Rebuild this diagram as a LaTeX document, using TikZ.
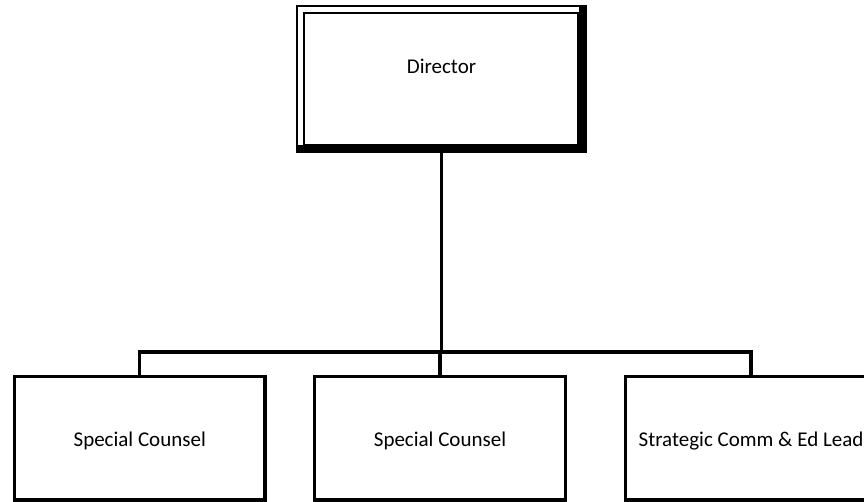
\documentclass[tikz,border=0pt]{standalone}
\usepackage{fontspec}
\setmainfont{Carlito}
\begin{document}
\begin{tikzpicture}[x=1pt,y=-1pt,
  boxfont/.style={font=\fontsize{21}{25}\selectfont},
  unitbox/.style={boxfont, draw, line width=3.3pt, inner sep=0pt,
    minimum width=250.5pt, text height=70pt, text depth=53.5pt},
  headbox/.style={boxfont, inner sep=0pt, minimum width=291pt,
    text height=68pt, text depth=79pt},
  link/.style={line width=3.3pt, line join=miter},
]
\useasboundingbox (0,0) rectangle (864,502);
\clip (0,0) rectangle (864,502);

% Director frame: thin double line on top/left, heavy shadow on bottom/right
\fill[black] (295.7,5) rectangle (587,153);
\fill[white] (298.3,7.4) rectangle (579,145);
\draw[line width=2.2pt] (303.6,12.8) rectangle (578.5,145);
\node[headbox] (dir) at (441.5,79.5) {Director};

% Staff units
\node[unitbox] (sc1) at (139.75,438.25) {Special Counsel};
\node[unitbox] (sc2) at (440,438.25) {Special Counsel};
\node[unitbox] (scl) at (751,438.25) {Strategic Comm \& Ed Lead};

% Reporting lines
\coordinate (bar) at (441.5,352);
\draw[link] (dir.south) -- (bar);
\draw[link] (bar) -| (sc1.north);
\draw[link] (bar) -| (scl.north);
\draw[link] (bar -| sc2.north) -- (sc2.north);
\end{tikzpicture}
\end{document}
